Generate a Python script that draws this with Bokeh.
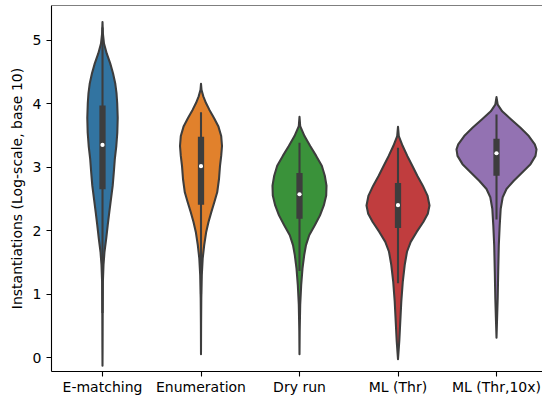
import numpy as np
from bokeh.plotting import figure
from bokeh.models import Range1d, FixedTicker, Span, ColumnDataSource
from bokeh.embed import file_html
from bokeh.resources import INLINE

# ---------------- data ----------------
categories = ["E-matching", "Enumeration", "Dry run", "ML (Thr)", "ML (Thr,10x)"]
colors = ["#3274a1", "#e1812c", "#3a923a", "#c03d3e", "#9372b2"]

# violin outlines, top to bottom: value (log10) and half-width in pixels
ematch_y = [5.286, 5.104, 4.948, 4.792, 4.635, 4.479, 4.323, 4.167, 4.010, 3.776, 3.542, 3.333, 3.125,
            2.917, 2.708, 2.5, 2.292, 2.083, 1.875, 1.667, 1.458, 1.198, 0.677, 0.156, -0.130]
ematch_w = [0, 0.4, 1.5, 4.2, 7.7, 10.5, 12.7, 14, 14.7, 15.2, 14.8, 13.8, 12.3,
            11.3, 10.2, 8.5, 6.8, 5.2, 3.7, 2, 1, 0.4, 0.2, 0.1, 0]
enum_y = [4.3125, 4.219, 4.115, 4.010, 3.906, 3.776, 3.646, 3.490, 3.333, 3.177, 3.021, 2.813,
          2.604, 2.448, 2.292, 2.135, 1.979, 1.771, 1.563, 1.302, 0.938, 0.521, 0.052]
enum_w = [0, 0.5, 2.3, 5, 8.3, 13, 17.3, 20.2, 21, 20.2, 19, 18,
          16.2, 13.3, 10.3, 7.5, 5.2, 3.2, 1.7, 0.8, 0.3, 0.1, 0]
dry_y = [3.792, 3.646, 3.490, 3.333, 3.177, 3.021, 2.865, 2.708, 2.552, 2.396, 2.240, 2.083,
         1.927, 1.771, 1.615, 1.406, 1.146, 0.833, 0.417, 0.052]
dry_w = [0, 0.7, 5, 10.7, 16.7, 22.3, 25.3, 27, 26.7, 24.3, 20.5, 15.3,
         9.7, 6.5, 4.7, 3, 1.7, 0.7, 0.2, 0]
mlthr_y = [3.635, 3.490, 3.333, 3.177, 3.021, 2.865, 2.708, 2.552, 2.396, 2.266, 2.135, 1.979,
           1.823, 1.667, 1.458, 1.198, 0.885, 0.573, 0.260, -0.026]
mlthr_w = [0, 0.8, 4.7, 9.3, 14.3, 19.3, 24.8, 29.5, 31.5, 29.8, 25.3, 18.7,
           12.7, 9, 6.7, 4.8, 3.3, 2.3, 1.3, 0]
ml10_y = [4.104, 3.984, 3.880, 3.750, 3.620, 3.490, 3.359, 3.281, 3.177, 3.047, 2.917, 2.786,
          2.656, 2.526, 2.344, 2.083, 1.771, 1.354, 0.938, 0.573, 0.3125]
ml10_w = [0, 1.2, 5.7, 14.7, 24, 32.3, 38.3, 40, 39, 34, 25.7, 17.3,
          10, 6.2, 4.2, 3.2, 2.3, 1.7, 1.2, 0.5, 0]

# inner box statistics
q1 = [2.65, 2.406, 2.1875, 2.042, 2.865]
q3 = [3.97, 3.479, 2.906, 2.75, 3.448]
median = [3.35, 3.016, 2.573, 2.40, 3.219]
whisker_lo = [0.7, 1.0, 1.365, 1.17, 2.177]
whisker_hi = [5.2, 3.865, 3.385, 3.307, 3.83]

y_ticks = [0, 1, 2, 3, 4, 5]

profiles_y = [ematch_y, enum_y, dry_y, mlthr_y, ml10_y]
profiles_w = [ematch_w, enum_w, dry_w, mlthr_w, ml10_w]

PX_PER_CAT = 98.5
GRAY = "#3d3d3d"
FONT = "DejaVu Sans"

p = figure(width=542, height=397, output_backend="svg", toolbar_location=None,
           x_range=Range1d(-51 / PX_PER_CAT, (542 - 102) / PX_PER_CAT),
           y_range=Range1d(-0.22, 5.547),
           min_border_left=51, min_border_right=0, min_border_top=5, min_border_bottom=23)
p.outline_line_color = None
p.grid.visible = False
p.background_fill_color = "white"
p.border_fill_color = "white"

xs_all, ys_all = [], []
for i, (py, pw) in enumerate(zip(profiles_y, profiles_w)):
    yv = np.array(py, dtype=float)
    hw = np.array(pw, dtype=float) / PX_PER_CAT
    xs_all.append(list(np.concatenate([i + hw, (i - hw)[::-1]])))
    ys_all.append(list(np.concatenate([yv, yv[::-1]])))

vsrc = ColumnDataSource(dict(xs=xs_all, ys=ys_all, color=colors))
p.patches("xs", "ys", source=vsrc, fill_color="color", line_color=GRAY,
          line_width=2.08, line_join="round")

idx = list(range(len(categories)))
bsrc = ColumnDataSource(dict(x=idx, q1=q1, q3=q3, med=median, lo=whisker_lo, hi=whisker_hi))
p.segment(x0="x", y0="lo", x1="x", y1="hi", source=bsrc, line_color=GRAY, line_width=2.08)
p.vbar(x="x", width=6.25 / PX_PER_CAT, bottom="q1", top="q3", source=bsrc,
       fill_color=GRAY, line_color=None)
p.scatter(x="x", y="med", source=bsrc, size=4.2, fill_color="white", line_color=None)

top_spine = Span(location=5.547, dimension="width", line_color="black", line_width=1.1)
p.add_layout(top_spine)

p.xaxis.ticker = FixedTicker(ticks=idx)
p.xaxis.major_label_overrides = {i: c for i, c in enumerate(categories)}
p.yaxis.ticker = FixedTicker(ticks=y_ticks)
for ax in (p.xaxis, p.yaxis):
    ax.axis_line_color = "black"
    ax.axis_line_width = 1.1
    ax.major_tick_line_color = "black"
    ax.major_tick_line_width = 1.1
    ax.major_tick_in = 0
    ax.major_tick_out = 5
    ax.minor_tick_line_color = None
    ax.major_label_text_font = FONT
    ax.major_label_text_font_size = "14px"
    ax.major_label_text_color = "black"
p.xaxis.major_label_standoff = 2
p.xaxis.major_label_text_line_height = 1.0
p.yaxis.major_label_standoff = 5
p.yaxis.axis_label = "Instantiations (Log-scale, base 10)"
p.yaxis.axis_label_text_font = FONT
p.yaxis.axis_label_text_font_size = "14px"
p.yaxis.axis_label_text_font_style = "normal"
p.yaxis.axis_label_text_color = "black"
p.yaxis.axis_label_standoff = 5

open("out.html", "w").write(file_html(p, INLINE))
